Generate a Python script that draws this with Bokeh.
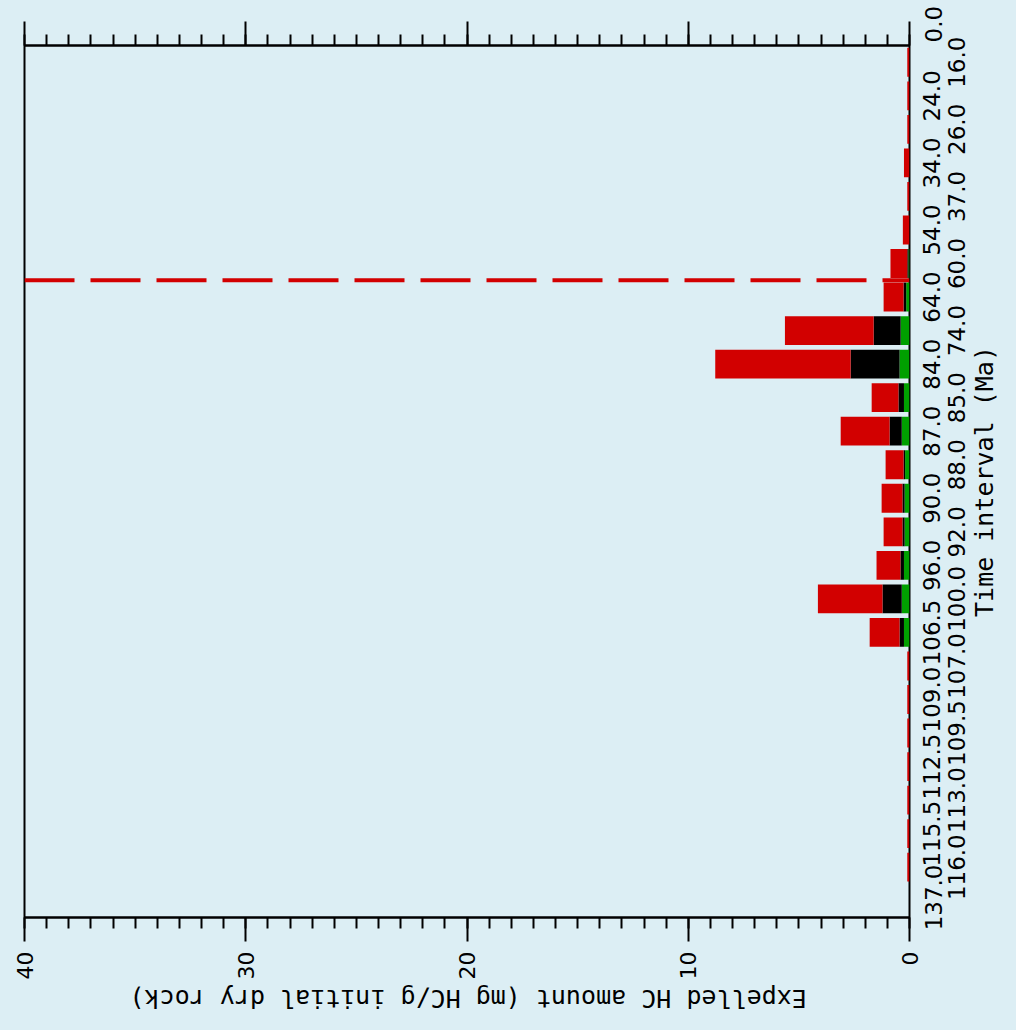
from math import pi
from bokeh.plotting import figure
from bokeh.models import (Range1d, LinearAxis, SingleIntervalTicker, FixedTicker, Span,
                          ColumnDataSource, CustomJSTickFormatter)
from bokeh.embed import file_html
from bokeh.resources import INLINE

# ---- data -------------------------------------------------------------
# age labels along the time axis (bottom -> top), one per slot
ages = ["137.0", "116.0", "115.5", "113.0", "112.5", "109.5", "109.0", "107.0",
        "106.5", "100.0", "96.0", "92.0", "90.0", "88.0", "87.0", "85.0",
        "84.0", "74.0", "64.0", "60.0", "54.0", "37.0", "34.0", "26.0",
        "24.0", "16.0", "0.0"]

# expelled amounts per time interval (26 intervals), stacked segments
green_amt = [0, 0, 0, 0, 0, 0, 0, 0,
             0.25, 0.35, 0.25, 0.22, 0.22, 0.20, 0.35, 0.25, 0.45, 0.40, 0.15, 0.05,
             0, 0, 0, 0, 0, 0]
black_amt = [0, 0, 0, 0, 0, 0, 0, 0,
             0.20, 0.87, 0.16, 0.10, 0.10, 0.07, 0.55, 0.25, 2.21, 1.22, 0.12, 0.05,
             0, 0, 0, 0, 0, 0]
red_amt = [0, 0.1, 0.1, 0.1, 0.1, 0.1, 0.1, 0.1,
           1.35, 2.92, 1.08, 0.85, 0.94, 0.81, 2.21, 1.21, 6.12, 4.01, 0.90, 0.76,
           0.30, 0.10, 0.25, 0.10, 0.10, 0.10]

marker_age = "60.0"
value_title = "Expelled HC amount (mg HC/g initial dry rock)"
time_title = "Time interval (Ma)"

BG = "#DCEEF4"
RED = "#D20000"
GREEN = "#00A000"
FONT = "DejaVu Sans"
MONO = "DejaVu Sans Mono"
LAB_PX = 23

FRAME_H = 872
n = len(red_amt)
s = FRAME_H / n      # px per slot


def text_w(t, size, mono=False):
    if mono:
        return len(t) * 0.602 * size
    return sum((0.318 if c == "." else 0.636) for c in t) * size


src = ColumnDataSource(dict(y=[i + 0.5 for i in range(n)],
                            green=green_amt, black=black_amt, red=red_amt))

p = figure(width=1016, height=1030, output_backend="svg", toolbar_location=None,
           x_range=Range1d(40, 0), y_range=Range1d(0, n),
           x_axis_location=None, y_axis_location=None,
           min_border_left=24, min_border_right=103,
           min_border_top=45, min_border_bottom=113)
p.background_fill_color = BG
p.border_fill_color = BG
p.outline_line_color = "black"
p.outline_line_width = 2
p.xgrid.visible = False
p.ygrid.visible = False

p.hbar_stack(["green", "black", "red"], y="y", height=0.86,
             color=[GREEN, "black", RED], line_color=None, source=src)

# dashed marker at the 60.0 Ma boundary
p.add_layout(Span(location=ages.index(marker_age), dimension="width",
                  line_color=RED, line_width=4, line_dash="50 16"))


def plain_axis(ax):
    ax.axis_line_color = None
    ax.major_tick_in = 0
    ax.major_tick_out = 0
    ax.minor_tick_in = 0
    ax.minor_tick_out = 0
    ax.major_label_text_color = "black"
    ax.major_label_text_font = FONT
    return ax


# value axes: bottom with labels, top with ticks (and the last age label)
for side in ("below", "above"):
    ax = LinearAxis(ticker=SingleIntervalTicker(interval=10, num_minor_ticks=10))
    ax.axis_line_color = "black"
    ax.axis_line_width = 2
    ax.major_tick_line_width = 2
    ax.minor_tick_line_width = 2
    ax.major_tick_in = 0
    ax.major_tick_out = 24
    ax.minor_tick_in = 0
    ax.minor_tick_out = 11
    ax.major_label_orientation = pi / 2
    ax.major_label_text_font = FONT
    ax.major_label_text_color = "black"
    if side == "below":
        ax.major_label_standoff = 10
        ax.major_label_text_font_size = "22px"
    else:
        ax.formatter = CustomJSTickFormatter(
            args=dict(lab="\u00a0\n" + ages[-1]), code="return tick == 0 ? lab : '';")
        ax.major_label_standoff = -21
        ax.major_label_text_font_size = "%dpx" % LAB_PX
        ax.major_label_text_line_height = 1.9
    p.add_layout(ax, side)

# bottom title (upside down)
tax = plain_axis(LinearAxis(ticker=FixedTicker(ticks=[16.3])))
tax.formatter = CustomJSTickFormatter(args=dict(t=value_title), code="return t")
tax.major_label_orientation = pi
tax.major_label_standoff = 16
tax.major_label_text_font = MONO
tax.major_label_text_font_size = "25px"
p.add_layout(tax, "below")

# first age label: hangs from the bottom side, pulled up next to the frame corner
fax = plain_axis(LinearAxis(ticker=FixedTicker(ticks=[0])))
fax.formatter = CustomJSTickFormatter(args=dict(lab="\u00a0\n" + ages[0]),
                                      code="return lab;")
fax.major_label_orientation = pi / 2
fax.major_label_standoff = -166
fax.major_label_text_font_size = "%dpx" % LAB_PX
fax.major_label_text_line_height = 1.9
p.add_layout(fax, "below")

# remaining time labels on the right, two staggered columns (labels start at tick)
col1 = ages[2:-1:2]
col2 = ages[1::2]
c1 = [i + 0.5 for i in range(2, len(ages) - 1, 2)]
c2 = [i + 0.5 for i in range(1, len(ages), 2)]
col1_ticks = [c - text_w(t, LAB_PX) / 2 / s for t, c in zip(col1, c1)]
col2_ticks = [c - text_w(t, LAB_PX) / 2 / s for t, c in zip(col2, c2)]

code = "return labels[index];"
a1 = plain_axis(LinearAxis(ticker=FixedTicker(ticks=col1_ticks)))
a1.formatter = CustomJSTickFormatter(args=dict(labels=col1), code=code)
a1.major_label_orientation = pi / 2
a1.major_label_standoff = 22
a1.major_label_text_font_size = "%dpx" % LAB_PX
p.add_layout(a1, "right")

a2 = plain_axis(LinearAxis(ticker=FixedTicker(ticks=col2_ticks)))
a2.formatter = CustomJSTickFormatter(args=dict(labels=col2), code=code)
a2.major_label_orientation = pi / 2
a2.major_label_standoff = 5
a2.major_label_text_font_size = "%dpx" % LAB_PX
p.add_layout(a2, "right")

a3 = plain_axis(LinearAxis(ticker=FixedTicker(
    ticks=[n / 2 - text_w(time_title, 25, mono=True) / 2 / s])))
a3.formatter = CustomJSTickFormatter(args=dict(labels=[time_title]), code=code)
a3.major_label_orientation = pi / 2
a3.major_label_standoff = 8
a3.major_label_text_font = MONO
a3.major_label_text_font_size = "25px"
p.add_layout(a3, "right")

html = file_html(p, INLINE)
html = html.replace("<body>", '<body style="background-color:%s;">' % BG)
open("out.html", "w").write(html)
